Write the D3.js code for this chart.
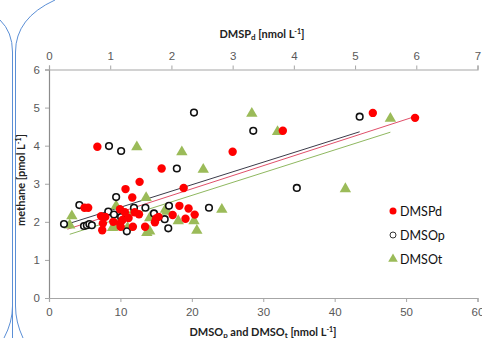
<!DOCTYPE html>
<html>
<head>
<meta charset="utf-8">
<script src="https://cdn.jsdelivr.net/npm/d3@7"></script>
<style>
  body { margin: 0; background: #fff; }
  svg { display: block; font-family: Lato, "Open Sans", sans-serif; }
  .tick text { fill: #595959; font-size: 11.5px; }
</style>
</head>
<body>
<div id="chart"></div>
<script>
// DMSPd (top axis, nmol/L) vs methane (pmol/L)
const dmspd = [
  [0.79, 3.97], [1.84, 3.40], [1.48, 3.05], [1.25, 2.86], [1.36, 2.64], [2.20, 2.89],
  [0.58, 2.37], [0.64, 2.37], [2.13, 2.42], [2.28, 2.35], [2.38, 2.19], [2.02, 2.18],
  [2.23, 2.08], [0.85, 2.15], [0.92, 2.13], [0.88, 1.96], [0.87, 1.78], [1.05, 2.00],
  [1.16, 2.33], [1.24, 2.25], [1.40, 2.25], [1.47, 2.20], [1.16, 1.96], [1.17, 1.87],
  [1.37, 1.87], [1.57, 1.87], [1.73, 1.99], [1.75, 2.09], [1.79, 2.13], [3.00, 3.84],
  [5.29, 4.86], [5.98, 4.73], [3.82, 4.39], [1.30, 2.10], [1.20, 2.05]
];
// DMSOp (bottom axis)
const dmsop = [
  [2.1, 1.94], [4.25, 2.44], [4.9, 1.89], [5.3, 1.91], [5.65, 1.94], [6.0, 1.91],
  [8.4, 3.99], [10.1, 3.86], [20.3, 4.87], [28.6, 4.39], [43.5, 4.76], [34.7, 2.89],
  [9.4, 2.65], [8.3, 2.27], [9.1, 2.19], [11.9, 2.37], [13.5, 2.37], [14.7, 2.22],
  [16.2, 2.07], [16.8, 2.42], [17.9, 3.40], [16.7, 1.83], [22.4, 2.37], [10.9, 1.75],
  [10.1, 2.13]
];
// DMSOt (bottom axis)
const dmsot = [
  [3.2, 2.18], [2.9, 1.94], [12.3, 3.99], [18.6, 3.86], [21.6, 3.40], [28.4, 4.87],
  [32.0, 4.39], [47.8, 4.74], [41.5, 2.89], [13.6, 2.66], [9.4, 2.44], [9.1, 1.91],
  [8.9, 1.87], [11.0, 1.87], [13.7, 1.74], [14.1, 1.78], [16.3, 2.35], [14.1, 2.13],
  [20.7, 1.80], [20.3, 2.05], [24.2, 2.35], [10.0, 1.94], [18.1, 2.05], [16.5, 2.30],
  [11.8, 2.30]
];
// linear trendlines: [xStart, xEnd, slope, intercept]
const fitDmspd = [0.30, 5.98, 0.521, 1.65];
const fitDmsop = [2.1, 43.5, 0.0592, 1.79];
const fitDmsot = [2.9, 47.8, 0.0597, 1.50];

const bottomTicks = [0, 10, 20, 30, 40, 50, 60];
const topTicks = [0, 1, 2, 3, 4, 5, 6, 7];
const yTicks = [0, 1, 2, 3, 4, 5, 6];
const legendNames = ["DMSPd", "DMSOp", "DMSOt"];

const width = 482, height = 338;
const margin = {top: 69.5, right: 4.5, bottom: 40, left: 49};
const plotW = width - margin.left - margin.right;
const plotH = height - margin.top - margin.bottom;

const svg = d3.select("#chart").append("svg")
    .attr("width", width)
    .attr("height", height);

// decorative frame curves at the left edge
const deco = svg.append("g").attr("fill", "none").attr("stroke", "#5b8fd6").attr("stroke-width", 1);
deco.append("path").attr("d", "M0,20 Q12.5,32 12.5,52 L12.5,338");
deco.append("path").attr("d", "M55,0 Q15.5,18 15.5,52 L15.5,306 Q15.5,322 23,338");
deco.append("path").attr("d", "M12.5,306 Q12.5,322 4,338");

const x = d3.scaleLinear().domain([0, 60]).range([0, plotW]);
const xTop = d3.scaleLinear().domain([0, 7]).range([0, plotW]);
const y = d3.scaleLinear().domain([0, 6]).range([plotH, 0]);

const g = svg.append("g").attr("transform", `translate(${margin.left},${margin.top})`);

// axes
const yAxis = g.append("g").call(d3.axisLeft(y).tickValues(yTicks).tickSize(4).tickPadding(5).tickFormat(d3.format("d")));
const xAxis = g.append("g").attr("transform", `translate(0,${plotH})`)
    .call(d3.axisBottom(x).tickValues(bottomTicks).tickSize(4).tickPadding(6).tickFormat(d3.format("d")));
const xTopAxis = g.append("g")
    .call(d3.axisTop(xTop).tickValues(topTicks).tickSize(4).tickPadding(6).tickFormat(d3.format("d")));
[yAxis, xAxis, xTopAxis].forEach(a => {
    a.select(".domain").attr("stroke", "#a6a6a6").attr("stroke-width", 1.2);
    a.selectAll(".tick line").attr("stroke", "#a6a6a6");
});
yAxis.select(".domain").attr("stroke", "#8c8c8c");

// trendlines
function drawFit(fit, scaleX, color) {
    const pts = [fit[0], fit[1]].map(v => [scaleX(v), y(fit[2] * v + fit[3])]);
    g.append("path").attr("d", d3.line()(pts))
        .attr("fill", "none").attr("stroke", color).attr("stroke-width", 1);
}
drawFit(fitDmsop, x, "#3c3c4a");
drawFit(fitDmspd, xTop, "#e0506a");
drawFit(fitDmsot, x, "#8fb860");

// points
const tri = d3.symbol().type(d3.symbolTriangle).size(56);
g.append("g").selectAll("path").data(dmsot).join("path")
    .attr("d", tri)
    .attr("transform", d => `translate(${x(d[0])},${y(d[1]) + 1})`)
    .attr("fill", "#9bbb59");
g.append("g").selectAll("circle").data(dmsop).join("circle")
    .attr("cx", d => x(d[0])).attr("cy", d => y(d[1])).attr("r", 3.3)
    .attr("fill", "#fff").attr("stroke", "#111").attr("stroke-width", 1.6);
g.append("g").selectAll("circle").data(dmspd).join("circle")
    .attr("cx", d => xTop(d[0])).attr("cy", d => y(d[1])).attr("r", 4.2)
    .attr("fill", "#ff0000");

// legend
const legend = svg.append("g").attr("transform", "translate(393,211)");
legendNames.forEach((name, i) => {
    const row = legend.append("g").attr("transform", `translate(0,${i * 24})`);
    if (i === 0) row.append("circle").attr("r", 3.5).attr("fill", "#ff0000");
    if (i === 1) row.append("circle").attr("r", 3).attr("fill", "#fff").attr("stroke", "#333").attr("stroke-width", 1);
    if (i === 2) row.append("path").attr("d", d3.symbol().type(d3.symbolTriangle).size(40)).attr("fill", "#9bbb59");
    row.append("text").attr("x", 7).attr("y", 4.5).attr("font-size", "12.5px").attr("fill", "#111").text(name);
});

// axis titles
const topTitle = svg.append("text").attr("x", 262).attr("y", 38).attr("text-anchor", "middle")
    .attr("font-size", "11px").attr("font-weight", "bold").attr("fill", "#222");
topTitle.append("tspan").text("DMSP");
topTitle.append("tspan").attr("font-size", "8px").attr("dy", 2).text("d");
topTitle.append("tspan").attr("dy", -2).text(" [nmol L");
topTitle.append("tspan").attr("font-size", "7px").attr("dy", -4).text("-1");
topTitle.append("tspan").attr("dy", 4).text("]");

const botTitle = svg.append("text").attr("x", 263).attr("y", 336).attr("text-anchor", "middle")
    .attr("font-size", "11px").attr("font-weight", "bold").attr("fill", "#222");
botTitle.append("tspan").text("DMSO");
botTitle.append("tspan").attr("font-size", "8px").attr("dy", 2).text("p");
botTitle.append("tspan").attr("dy", -2).text(" and DMSO");
botTitle.append("tspan").attr("font-size", "8px").attr("dy", 2).text("t");
botTitle.append("tspan").attr("dy", -2).text(" [nmol L");
botTitle.append("tspan").attr("font-size", "7px").attr("dy", -4).text("-1");
botTitle.append("tspan").attr("dy", 4).text("]");

const yTitle = svg.append("text").attr("transform", "translate(25,180) rotate(-90)").attr("text-anchor", "middle")
    .attr("font-size", "11px").attr("font-weight", "bold").attr("fill", "#222");
yTitle.append("tspan").text("methane [pmol L");
yTitle.append("tspan").attr("font-size", "7px").attr("dy", -4).text("-1");
yTitle.append("tspan").attr("dy", 4).text("]");
</script>
</body>
</html>
